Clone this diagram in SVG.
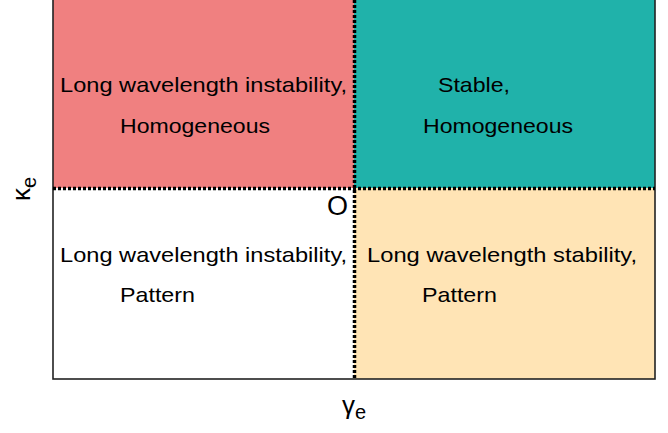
<svg xmlns="http://www.w3.org/2000/svg" width="668" height="433" viewBox="0 0 668 433">
<style>
text{font-family:"Liberation Sans",Arial,sans-serif;fill:#000}
.lbl{font-size:21px}
.dash{stroke:#000;stroke-width:3.5;stroke-dasharray:3 2;fill:none}
</style>
<rect width="668" height="433" fill="#fff"/>
<g id="q-top-left">
<rect x="53" y="0" width="301" height="188" fill="#F08080"/>
<text class="lbl" x="60" y="92" textLength="287" lengthAdjust="spacingAndGlyphs">Long wavelength instability,</text>
<text class="lbl" x="120" y="133" textLength="150" lengthAdjust="spacingAndGlyphs">Homogeneous</text>
</g>
<g id="q-top-right">
<rect x="354" y="0" width="301" height="188" fill="#20B2AA"/>
<text class="lbl" x="438" y="92" textLength="72" lengthAdjust="spacingAndGlyphs">Stable,</text>
<text class="lbl" x="423" y="133" textLength="150" lengthAdjust="spacingAndGlyphs">Homogeneous</text>
</g>
<g id="q-bottom-right">
<rect x="354" y="188" width="301" height="191" fill="#FFE4B5"/>
<text class="lbl" x="367" y="262" textLength="270" lengthAdjust="spacingAndGlyphs">Long wavelength stability,</text>
<text class="lbl" x="422" y="302" textLength="75" lengthAdjust="spacingAndGlyphs">Pattern</text>
</g>
<g id="q-bottom-left">
<text class="lbl" x="60" y="262" textLength="287" lengthAdjust="spacingAndGlyphs">Long wavelength instability,</text>
<text class="lbl" x="120" y="302" textLength="75" lengthAdjust="spacingAndGlyphs">Pattern</text>
</g>
<g id="frame">
<rect x="53" y="-5" width="602" height="384" fill="none" stroke="#222" stroke-width="1.6"/>
</g>
<g id="connectors">
<line class="dash" x1="53" y1="188.5" x2="655" y2="188.5"/>
<line class="dash" x1="354.5" y1="0" x2="354.5" y2="379"/>
</g>
<g id="origin">
<text x="327" y="215" font-size="27">O</text>
</g>
<g id="axis-labels">
<text x="342" y="414" font-size="26">γ<tspan font-size="20" dy="5">e</tspan></text>
<text transform="translate(30,201) rotate(-90)" font-size="26">κ<tspan font-size="20" dy="6">e</tspan></text>
</g>
</svg>
